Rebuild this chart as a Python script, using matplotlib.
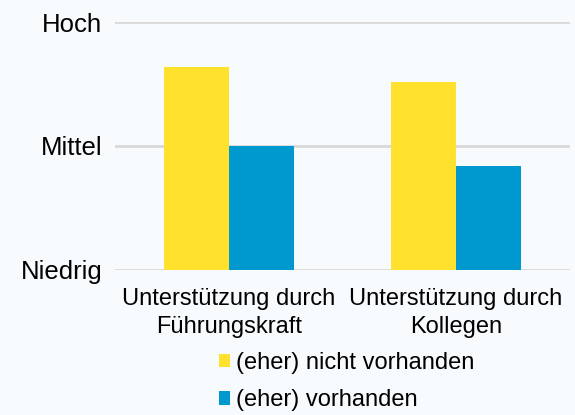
import matplotlib.pyplot as plt
import numpy as np

plt.rcParams["font.family"] = ["Liberation Sans", "DejaVu Sans"]

categories = ["Unterstützung durch\nFührungskraft", "Unterstützung durch\nKollegen"]
nicht_vorhanden = [1.64, 1.52]
vorhanden = [1.00, 0.84]
level_labels = ["Niedrig", "Mittel", "Hoch"]

BG = "#F7FBFE"
YELLOW = "#FFE12E"
BLUE = "#0099CF"

fig = plt.figure(figsize=(5.75, 4.15), dpi=100, facecolor=BG)
ax = fig.add_axes([0.2, 0.3506, 0.791, 0.5952], facecolor=BG)

x = np.arange(len(categories))
w = 0.285

ax.bar(x - w / 2, nicht_vorhanden, w, color=YELLOW, label="(eher) nicht vorhanden", zorder=3)
ax.bar(x + w / 2, vorhanden, w, color=BLUE, label="(eher) vorhanden", zorder=3)

ax.set_xlim(-0.5, 1.5)
ax.set_ylim(0, 2)
ax.set_yticks([0, 1, 2])
ax.set_yticklabels(level_labels, fontsize=18.5)
ax.set_xticks(x)
ax.set_xticklabels(categories, fontsize=17, linespacing=1.35)

ax.grid(axis="y", color="#D9D9D9", linewidth=2, zorder=0)
ax.tick_params(axis="both", length=0)
ax.tick_params(axis="y", pad=9)
ax.tick_params(axis="x", pad=13)
for s in ax.spines.values():
    s.set_visible(False)

fig.legend(
    loc="upper left",
    bbox_to_anchor=(0.38, 0.152),
    bbox_transform=fig.transFigure,
    frameon=False,
    fontsize=17,
    handlelength=0.5,
    handleheight=0.5,
    handletextpad=0.25,
    labelspacing=0.65,
    borderaxespad=0,
    borderpad=0,
)

fig.savefig("out.png", dpi=100, facecolor=BG)
